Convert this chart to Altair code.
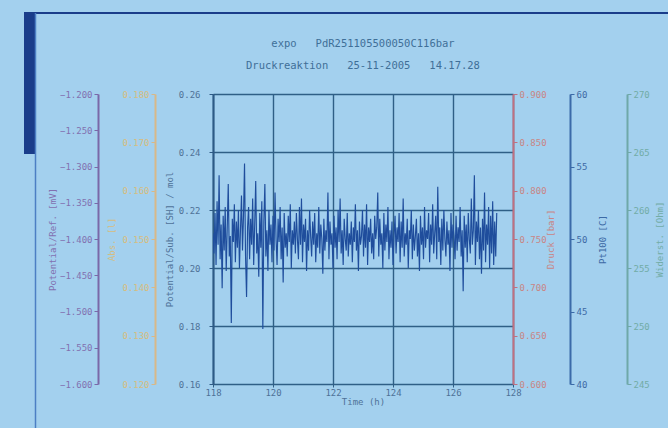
import altair as alt
import pandas as pd

NB = "\u00a0"
TITLE_LINES = [f"expo{NB*3}PdR251105500050C116bar", f"Druckreaktion{NB*3}25-11-2005{NB*3}14.17.28"]

X_TICKS = [118, 120, 122, 124, 126, 128]
MAIN_TICKS = [0.16, 0.18, 0.20, 0.22, 0.24, 0.26]
REF_TICKS = [-1.60, -1.55, -1.50, -1.45, -1.40, -1.35, -1.30, -1.25, -1.20]
ABS_TICKS = [0.12, 0.13, 0.14, 0.15, 0.16, 0.17, 0.18]
DRUCK_TICKS = [0.60, 0.65, 0.70, 0.75, 0.80, 0.85, 0.90]
PT_TICKS = [40, 45, 50, 55, 60]
OHM_TICKS = [245, 250, 255, 260, 265, 270]

T0 = 118.0
DT = 0.0339
signal = [
    0.212, 0.205, 0.219, 0.201, 0.223, 0.208, 0.232, 0.203, 0.215, 0.193, 0.218, 0.206, 0.221, 0.199, 0.214, 0.229, 0.204, 0.211, 0.181, 0.217,
    0.209, 0.222, 0.202, 0.216, 0.207, 0.220, 0.200, 0.213, 0.225, 0.206, 0.218, 0.236, 0.204, 0.190, 0.214, 0.221, 0.203, 0.217, 0.208, 0.224,
    0.201, 0.215, 0.230, 0.205, 0.212, 0.197, 0.219, 0.207, 0.223, 0.179, 0.216, 0.229, 0.204, 0.213, 0.199, 0.220, 0.208, 0.215, 0.202, 0.218,
    0.206, 0.226, 0.210, 0.201, 0.217, 0.209, 0.221, 0.203, 0.214, 0.195, 0.219, 0.207, 0.212, 0.204, 0.218, 0.209, 0.222, 0.200, 0.213, 0.208,
    0.216, 0.205, 0.219, 0.210, 0.203, 0.221, 0.208, 0.224, 0.202, 0.215, 0.209, 0.217, 0.199, 0.213, 0.206, 0.220, 0.211, 0.204, 0.216, 0.208,
    0.219, 0.202, 0.212, 0.207, 0.221, 0.205, 0.215, 0.210, 0.198, 0.217, 0.206, 0.213, 0.209, 0.226, 0.203, 0.216, 0.208, 0.212, 0.200, 0.218,
    0.207, 0.214, 0.203, 0.220, 0.209, 0.224, 0.205, 0.213, 0.201, 0.217, 0.210, 0.206, 0.219, 0.204, 0.212, 0.208, 0.216, 0.202, 0.214, 0.209,
    0.222, 0.206, 0.213, 0.199, 0.216, 0.208, 0.211, 0.220, 0.204, 0.215, 0.207, 0.222, 0.201, 0.214, 0.209, 0.217, 0.205, 0.212, 0.203, 0.218,
    0.210, 0.214, 0.226, 0.204, 0.217, 0.208, 0.212, 0.200, 0.219, 0.206, 0.215, 0.209, 0.221, 0.203, 0.213, 0.207, 0.216, 0.201, 0.211, 0.218,
    0.205, 0.214, 0.209, 0.219, 0.202, 0.216, 0.207, 0.224, 0.204, 0.212, 0.208, 0.217, 0.200, 0.213, 0.210, 0.220, 0.203, 0.215, 0.206, 0.211,
    0.217, 0.204, 0.212, 0.199, 0.218, 0.208, 0.214, 0.203, 0.221, 0.207, 0.213, 0.210, 0.219, 0.202, 0.215, 0.208, 0.222, 0.205, 0.212, 0.218,
    0.203, 0.228, 0.209, 0.214, 0.201, 0.217, 0.206, 0.220, 0.210, 0.204, 0.216, 0.208, 0.213, 0.199, 0.219, 0.207, 0.215, 0.211, 0.203, 0.218,
    0.206, 0.214, 0.209, 0.221, 0.204, 0.213, 0.192, 0.218, 0.207, 0.215, 0.202, 0.219, 0.210, 0.205, 0.224, 0.208, 0.213, 0.232, 0.201, 0.216,
    0.209, 0.220, 0.203, 0.214, 0.198, 0.217, 0.206, 0.226, 0.202, 0.215, 0.208, 0.221, 0.200, 0.218, 0.205, 0.223, 0.201, 0.216, 0.204, 0.219,
]
times = [round(T0 + i * DT, 4) for i in range(len(signal))]
df = pd.DataFrame({"t": times, "v": signal})

BG = "#a3d0ee"
GRID = "#2f5f86"
FONT = "DejaVu Sans Mono"


def axis_style(color, label_color, **kw):
    base = dict(
        domainColor=color, domainWidth=2, tickColor=color, tickSize=4, tickWidth=1,
        labelColor=label_color, labelFont=FONT, labelFontSize=9, labelPadding=2,
        titleColor=label_color, titleFont=FONT, titleFontSize=9, titleFontWeight="normal",
        titleAngle=270, grid=False,
    )
    base.update(kw)
    return base


main = alt.Chart(df).mark_line(color="#1f4d9c", strokeWidth=1.15, clip=True).encode(
    x=alt.X("t:Q", scale=alt.Scale(domain=[118, 128], nice=False, zero=False),
            axis=alt.Axis(values=X_TICKS, format="d", title="Time (h)", grid=True,
                          gridColor=GRID, gridWidth=1.4, domain=False, labelFlush=False,
                          tickColor=GRID, tickSize=3, labelColor="#4f7298", labelFont=FONT,
                          labelFontSize=9, labelPadding=1, titleColor="#4f7298", titleFont=FONT,
                          titleFontSize=9, titleFontWeight="normal", titlePadding=0)),
    y=alt.Y("v:Q", scale=alt.Scale(domain=[0.16, 0.26], nice=False, zero=False),
            axis=alt.Axis(values=MAIN_TICKS, format=".2f", orient="left", offset=0,
                          title="Potential/Sub. [SH] / mol",
                          **axis_style("#2d5a85", "#4f7298", titlePadding=4, labelPadding=9,
                                       grid=True, gridColor=GRID, gridWidth=1.4))),
)


def side_axis(name, ticks, fmt, orient, offset, color, label_color, title, pad):
    d = pd.DataFrame({name: ticks})
    return alt.Chart(d).mark_point(opacity=0).encode(
        y=alt.Y(f"{name}:Q", scale=alt.Scale(domain=[min(ticks), max(ticks)], nice=False, zero=False),
                axis=alt.Axis(values=ticks, format=fmt, orient=orient, offset=offset, title=title,
                              **axis_style(color, label_color, titlePadding=pad)))
    )


ref = side_axis("ref", REF_TICKS, ".3f", "left", 115, "#7a68a8", "#8270b0", "Potential/Ref. [mV]", 2)
absb = side_axis("absb", ABS_TICKS, ".3f", "left", 58, "#d8b888", "#d6bd80", "Abs. [l]", 5)
druck = side_axis("druck", DRUCK_TICKS, ".3f", "right", 0, "#c07080", "#c98585", "Druck [bar]", 9)
pt = side_axis("pt", PT_TICKS, "d", "right", 57, "#3b6aa8", "#3d6aa5", "Pt100 [C]", 21)
ohm = side_axis("ohm", OHM_TICKS, "d", "right", 114, "#6fa8a8", "#72aca6", "Widerst. [Ohm]", 15)

one = pd.DataFrame({"d": [0]})
band = alt.Chart(one).mark_rect(color="#1a3d8a").encode(
    x=alt.value(-189), x2=alt.value(-177), y=alt.value(-82), y2=alt.value(60))
topline = alt.Chart(one).mark_rule(color="#1a3d8a", strokeWidth=2).encode(
    x=alt.value(-189), x2=alt.value(455), y=alt.value(-81))
sideline = alt.Chart(one).mark_rule(color="#4c7fc4", strokeWidth=1.5).encode(
    x=alt.value(-177.5), y=alt.value(-81), y2=alt.value(334))

chart = alt.layer(main, ref, absb, druck, pt, ohm, band, topline, sideline).resolve_scale(
    y="independent"
).properties(
    width=300, height=290,
    title=alt.Title(text=TITLE_LINES, font=FONT, fontSize=10.5, fontWeight="normal",
                    color="#3f6f98", lineHeight=22, offset=22, dy=81, anchor="middle", frame="group"),
    autosize=alt.AutoSizeParams(type="none"),
    padding={"left": 213, "top": 94, "right": 155, "bottom": 44},
    background=BG,
).configure_view(stroke=None)

chart.save("out.html", embed_options={"renderer": "svg", "actions": False})
